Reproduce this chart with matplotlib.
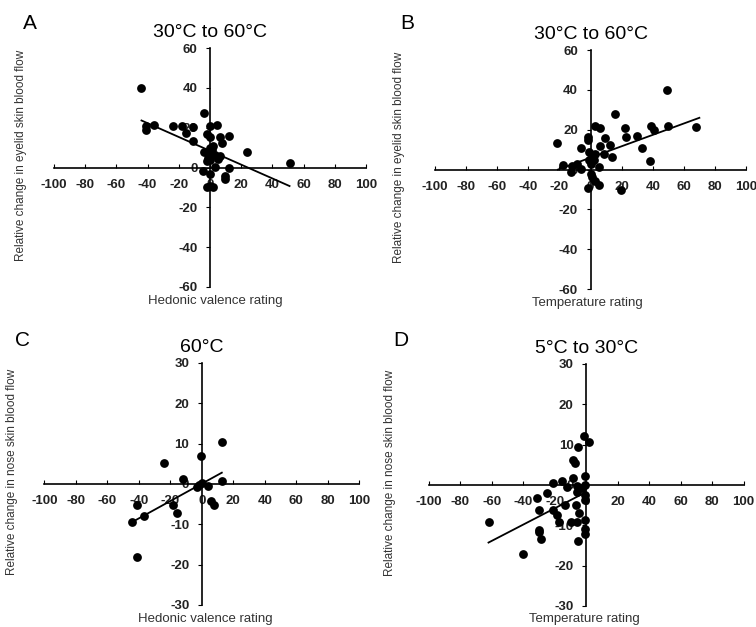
import numpy as np
import matplotlib
matplotlib.use('Agg')
from matplotlib import pyplot as plt

plt.rcParams['font.family'] = ['Liberation Sans', 'DejaVu Sans']
plt.rcParams['axes.unicode_minus'] = False

# panel A: hedonic valence vs eyelid flow (30 to 60 C)
a_x = [-44.3, -3.9, -40.7, -41.3, -35.8, -24, -18.2, -11, -15.6, -11, 0, 4.7, -1.7, 0, 6.4, 12.4,
       8, 23.6, 51, -3.9, 0, 0, 0, 0, 2, 6.4, -2, 3.2, 12.4, -4.3, 0, 9.6, 9.6, 0, -1.7, 1.7,
       1, -1, 3, 5]
a_y = [40, 27.5, 21.1, 19, 21.6, 20.8, 21.1, 20.6, 17.2, 13.5, 21, 21.6, 16.9, 15.2, 15.5, 16,
       12.2, 7.9, 2.5, 7.6, 10, 8, 6, 4, 11, 5.9, 3.4, 0.3, 0, -1.7, -3.4, -4.2, -5.6, -9.3, -10, -10,
       9, 5, 6.5, 4.5]
a_fit = (-0.347, 8.4, -43.9, 51)

# panel B: temperature rating vs eyelid flow (30 to 60 C)
b_x = [49.3, 15.6, -21.4, 3.2, 5.8, 22, 49.9, 38.8, 67.9, -1.5, -1.5, 9.2, 22.9, 30, 40.7,
       -5.8, 6.4, 12.8, 33.2, -1, 3.2, 8.6, 13.9, 38.5, -1, 1, -17.8, -11.8, -8.6, -12.8, -6.4,
       5.4, 0, 1, 3.2, 5.4, -1.5, 19.9, 0.5, 2.5]
b_y = [40.2, 27.7, 13.4, 21.8, 21, 21, 21.8, 21.8, 21.3, 16.6, 15, 16, 16.3, 17.1, 19.7,
       10.8, 11.8, 12.6, 10.8, 8.7, 7.9, 7.9, 6.2, 4.5, 4.9, 6.2, 2.5, 2, 2.9, -1.3, 0.3,
       1.5, -2.2, -3.9, -5.5, -7.6, -9.4, -10.1, 3, 5]
b_fit = (0.286, 6.0, -21, 70)

# panel C: hedonic valence vs nose flow (60 C)
c_x = [12.7, -0.4, -23.7, -12.1, 0, 12.7, -3.2, -1.9, 4.2, 5.7, 7.8, -40.9, -18.4, -15.5,
       -36.4, -44.5, -40.9]
c_y = [10.5, 7, 5.1, 1.2, 0.3, 0.7, -0.7, -0.2, -0.5, -4.1, -5.2, -5.1, -5.1, -7.3,
       -8, -9.5, -18.2]
c_fit = (0.215, 0.07, -45, 12.7)

# panel D: temperature rating vs nose flow (5 to 30 C)
d_x = [-1.3, 1.9, -5.3, -8.5, -7, -0.6, -15.5, -8.5, -20.8, -12.3, -5.9, -0.6, -2.8, -25,
       -5.9, -0.6, -31.4, -0.6, -29.9, -20.8, -18.6, -13.3, -6.4, -4.4, -0.6, -5.9, -9.5, -17,
       -62, -29.9, -29.9, -0.6, -0.6, -28.8, -5.3, -40.3]
d_y = [12.1, 10.7, 9.3, 6.2, 5.4, 2.3, 1.1, 1.7, 0.4, -0.4, -0.2, 0, -0.8, -2.1,
       -1.7, -2.5, -3.3, -3.6, -6.2, -6.2, -7.4, -5, -5, -7, -8.7, -9.1, -9.1, -9.1,
       -9.3, -11.2, -11.6, -11, -12.1, -13.4, -13.9, -17.1]
d_fit = (0.202, -1.75, -62, -1.7)

xticks = list(range(-100, 101, 20))

fig = plt.figure(figsize=(7.56, 6.27), dpi=100)


def panel(rect, x, y, fit, ylim, ystep, title, xlabel, ylabel, letter, lpos, ylab_x, xlab):
    ax = fig.add_axes(rect)
    ax.scatter(x, y, s=40, c='black', marker='o', linewidths=0, zorder=3)
    m, b, x0, x1 = fit
    fx = np.array([x0, x1])
    ax.plot(fx, m * fx + b, color='black', lw=1.3, zorder=2)
    ax.set_xlim(-100, 100)
    ax.set_ylim(-ylim, ylim)
    ax.set_xticks(xticks)
    ax.set_yticks(np.arange(-ylim, ylim + 1, ystep))
    for s in ['top', 'right']:
        ax.spines[s].set_visible(False)
    ax.spines['left'].set_position(('data', 0))
    ax.spines['bottom'].set_position(('data', 0))
    ax.spines['left'].set_linewidth(1.2)
    ax.spines['bottom'].set_linewidth(1.2)
    ax.tick_params(axis='x', direction='in', length=3, pad=8, labelsize=9.5)
    ax.tick_params(axis='y', direction='out', length=3, pad=6, labelsize=9.5)
    for t in ax.get_xticklabels() + ax.get_yticklabels():
        t.set_fontweight('bold')
        t.set_color('#222222')
    ax.set_title(title, fontsize=14, pad=8)
    ax.set_ylabel(ylabel, fontsize=8.5, color='#333333')
    ax.yaxis.set_label_coords(ylab_x, 0.55)
    ax.set_xlabel(xlabel, fontsize=9.5, color='#333333')
    ax.xaxis.set_label_coords(xlab[0], xlab[1])
    fig.text(lpos[0], lpos[1], letter, fontsize=15, ha='left', va='top')
    return ax


panel([0.0714, 0.5423, 0.4127, 0.381], a_x, a_y, a_fit, 60, 20, '30°C to 60°C',
      'Hedonic valence rating', 'Relative change in eyelid skin blood flow', 'A',
      (0.030, 0.978), -0.087, (0.516, -0.035))
panel([0.5754, 0.539, 0.4114, 0.381], b_x, b_y, b_fit, 60, 20, '30°C to 60°C',
      'Temperature rating', 'Relative change in eyelid skin blood flow', 'B',
      (0.530, 0.978), -0.096, (0.49, -0.035))
panel([0.0586, 0.0351, 0.4167, 0.386], c_x, c_y, c_fit, 30, 10, '60°C',
      'Hedonic valence rating', 'Relative change in nose skin blood flow', 'C',
      (0.020, 0.472), -0.083, (0.51, -0.032))
panel([0.567, 0.0335, 0.4167, 0.386], d_x, d_y, d_fit, 30, 10, '5°C to 30°C',
      'Temperature rating', 'Relative change in nose skin blood flow', 'D',
      (0.520, 0.472), -0.105, (0.495, -0.03))

plt.savefig('out.png', dpi=100)
